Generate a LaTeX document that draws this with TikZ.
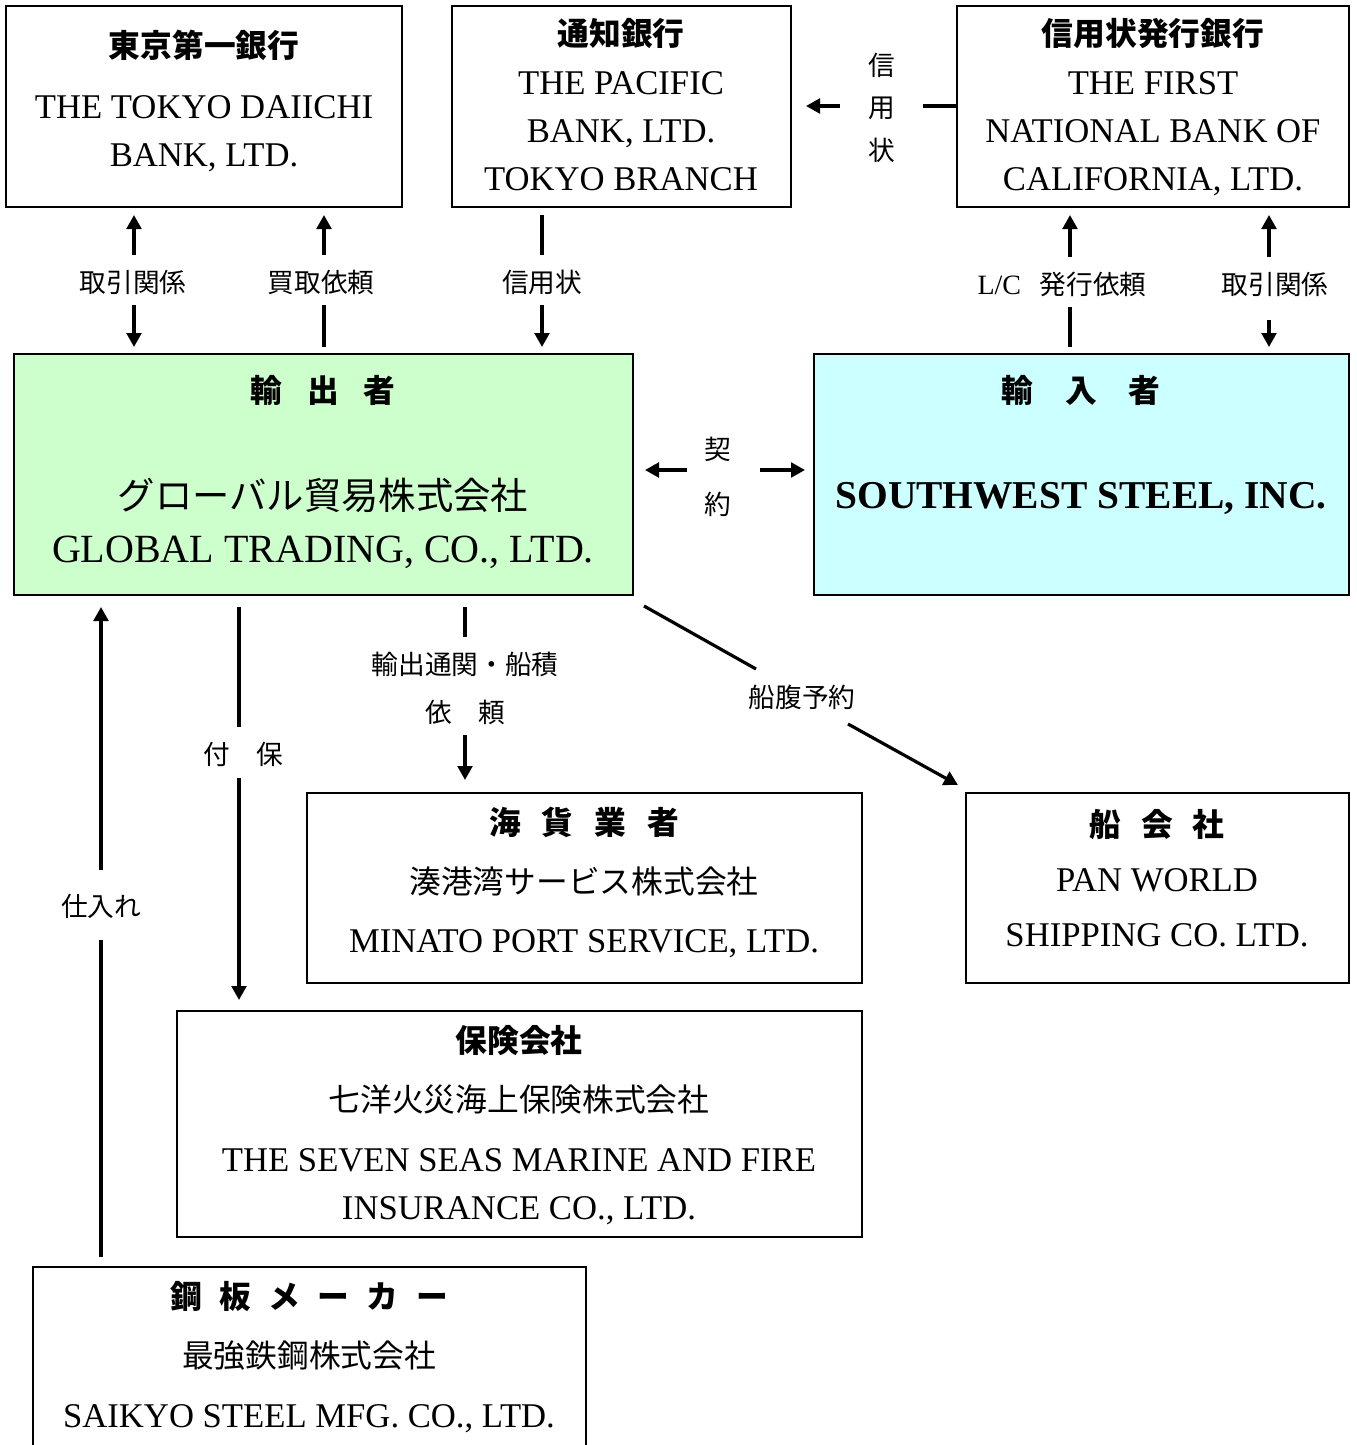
\documentclass[tikz,border=0pt]{standalone}
\usepackage{fontspec}
\setmainfont{Liberation Serif}
\newfontfamily\jp{Noto Sans CJK JP}
\usetikzlibrary{arrows.meta,fit}
\definecolor{expgreen}{HTML}{CCFFCC}
\definecolor{impcyan}{HTML}{CCFFFF}
\tikzset{
  box/.style={draw, line width=1.5pt, inner sep=0pt},
  txt/.style={inner sep=0pt, text depth=0pt, anchor=center},
  en/.style={txt, text height=17.2pt, font=\fontsize{26}{30}\selectfont},
  jh/.style={txt, text height=18.1pt, font=\fontsize{23.8}{28}\selectfont\jp\bfseries},
  jb/.style={txt, text height=18.1pt, font=\fontsize{23.8}{28}\selectfont\jp},
  lb/.style={txt, text height=15.2pt, font=\fontsize{20}{24}\selectfont\jp},
  conn/.style={line width=2.4pt},
  arr/.style={conn, -{Triangle[length=10.5pt,width=11pt]}},
}
\begin{document}
\begin{tikzpicture}[x=0.75pt,y=-0.75pt]
\useasboundingbox (0,0) rectangle (1356,1445);

% ---------- boxes ----------
\node[box, fit={(6,6)(402,207)}] (tokyo) {};
\node[box, fit={(452,6)(791,207)}] (pacific) {};
\node[box, fit={(957,6)(1349,207)}] (first) {};
\node[box, fill=expgreen, fit={(14,354)(633,595)}] (exporter) {};
\node[box, fill=impcyan, fit={(814,354)(1349,595)}] (importer) {};
\node[box, fit={(307,793)(862,983)}] (forwarder) {};
\node[box, fit={(966,793)(1349,983)}] (shipping) {};
\node[box, fit={(177,1011)(862,1237)}] (insurance) {};
\node[inner sep=0pt, fit={(33,1267)(586,1445)}] (maker) {};
\draw[line width=1.5pt] (maker.south west) -- (maker.north west) -- (maker.north east) -- (maker.south east);

% ---------- box texts ----------
\node[jh] (tokyo-j) at (204,45) {東京第一銀行};
\node[en] (tokyo-e1) at (204,107) {THE TOKYO DAIICHI};
\node[en] (tokyo-e2) at (204,155) {BANK, LTD.};

\node[jh] (pacific-j) at (621,33) {通知銀行};
\node[en] (pacific-e1) at (621,83) {THE PACIFIC};
\node[en] (pacific-e2) at (621,131) {BANK, LTD.};
\node[en] (pacific-e3) at (621,179) {TOKYO BRANCH};

\node[jh] (first-j) at (1153,33) {信用状発行銀行};
\node[en] (first-e1) at (1153,83) {THE FIRST};
\node[en] (first-e2) at (1153,131) {NATIONAL BANK OF};
\node[en] (first-e3) at (1153,179) {CALIFORNIA, LTD.};

\node[jh] (exporter-h) at (323,390) {輸\hspace{0.79em}出\hspace{0.79em}者};
\node[txt, text height=21.3pt, font=\fontsize{28}{32}\selectfont\jp] (exporter-j) at (323,495) {グローバル貿易株式会社};
\node[txt, text height=19.8pt, font=\fontsize{30}{34}\selectfont] (exporter-e) at (323,549) {GLOBAL TRADING, CO., LTD.};

\node[jh] (importer-h) at (1081,390) {輸\hspace{1em}入\hspace{1em}者};
\node[txt, text height=19.5pt, font=\fontsize{29.6}{34}\selectfont\bfseries] (importer-e) at (1081,495) {SOUTHWEST STEEL, INC.};

\node[jh] (forwarder-h) at (584,822) {海\hspace{0.66em}貨\hspace{0.66em}業\hspace{0.66em}者};
\node[jb] (forwarder-j) at (584,881) {湊港湾サービス株式会社};
\node[en] (forwarder-e) at (584,941) {MINATO PORT SERVICE, LTD.};

\node[jh] (shipping-h) at (1157,824) {船\hspace{0.63em}会\hspace{0.63em}社};
\node[en] (shipping-e1) at (1157,880) {PAN WORLD};
\node[en] (shipping-e2) at (1157,935) {SHIPPING CO. LTD.};

\node[jh] (insurance-h) at (519,1040) {保険会社};
\node[jb] (insurance-j) at (519,1099) {七洋火災海上保険株式会社};
\node[en] (insurance-e1) at (519,1160) {THE SEVEN SEAS MARINE AND FIRE};
\node[en] (insurance-e2) at (519,1208) {INSURANCE CO., LTD.};

\node[jh] (maker-h) at (309,1296) {鋼\hspace{0.55em}板\hspace{0.55em}メ\hspace{0.55em}ー\hspace{0.55em}カ\hspace{0.55em}ー};
\node[jb] (maker-j) at (309,1355) {最強鉄鋼株式会社};
\node[en] (maker-e) at (309,1416) {SAIKYO STEEL MFG. CO., LTD.};

% ---------- connector labels ----------
\node[lb] (l-tk1) at (133,282) {取引関係};
\node[lb] (l-tk2) at (321,282) {買取依頼};
\node[lb] (l-lc) at (542,282) {信用状};
\node[lb] (l-lcreq) at (1062,284) {{\fontsize{21}{24}\selectfont\rmfamily L/C}\hspace{14pt}発行依頼};
\node[lb] (l-fn) at (1275,284) {取引関係};
\node[lb] (l-v1) at (882,65) {信};
\node[lb] (l-v2) at (882,107) {用};
\node[lb] (l-v3) at (882,150) {状};
\node[lb] (l-k1) at (718,449) {契};
\node[lb] (l-k2) at (718,504) {約};
\node[lb] (l-ins) at (243,754) {付　保};
\node[lb] (l-fw1) at (465,664) {輸出通関・船積};
\node[lb] (l-fw2) at (465,712) {依　頼};
\node[lb] (l-ship) at (802,697) {船腹予約};
\node[lb] (l-buy) at (101,906) {仕入れ};

% ---------- connector end points ----------
\coordinate (c1a) at (134,255); \coordinate (c1b) at (134,215);
\coordinate (c1c) at (134,305); \coordinate (c1d) at (134,347);
\coordinate (c2a) at (324,255); \coordinate (c2b) at (324,215);
\coordinate (c2c) at (324,305); \coordinate (c2d) at (324,347);
\coordinate (c3a) at (542,215); \coordinate (c3b) at (542,255);
\coordinate (c3c) at (542,305); \coordinate (c3d) at (542,347);
\coordinate (c4a) at (1070,257); \coordinate (c4b) at (1070,215);
\coordinate (c4c) at (1070,307); \coordinate (c4d) at (1070,347);
\coordinate (c5a) at (1269,257); \coordinate (c5b) at (1269,215);
\coordinate (c5c) at (1269,320); \coordinate (c5d) at (1269,347);
\coordinate (c6a) at (840,106); \coordinate (c6b) at (806,106);
\coordinate (c6c) at (923,106); \coordinate (c6d) at (957,106);
\coordinate (c7a) at (687,470); \coordinate (c7b) at (645,470);
\coordinate (c7c) at (760,470); \coordinate (c7d) at (805,470);
\coordinate (c8a) at (239,607); \coordinate (c8b) at (239,727);
\coordinate (c8c) at (239,778); \coordinate (c8d) at (239,1000);
\coordinate (c9a) at (465,607); \coordinate (c9b) at (465,637);
\coordinate (c9c) at (465,735); \coordinate (c9d) at (465,780);
\coordinate (c10a) at (644,606); \coordinate (c10b) at (756,669);
\coordinate (c10c) at (848,724); \coordinate (c10d) at (958,785);
\coordinate (c11a) at (101,1257); \coordinate (c11b) at (101,940);
\coordinate (c11c) at (101,870); \coordinate (c11d) at (101,607);

% ---------- connectors ----------
\draw[arr] (c1a) -- (c1b);  \draw[arr] (c1c) -- (c1d);
\draw[arr] (c2a) -- (c2b);  \draw[conn] (c2c) -- (c2d);
\draw[conn] (c3a) -- (c3b); \draw[arr] (c3c) -- (c3d);
\draw[arr] (c4a) -- (c4b);  \draw[conn] (c4c) -- (c4d);
\draw[arr] (c5a) -- (c5b);  \draw[arr] (c5c) -- (c5d);
\draw[arr] (c6a) -- (c6b);  \draw[conn] (c6c) -- (c6d);
\draw[arr] (c7a) -- (c7b);  \draw[arr] (c7c) -- (c7d);
\draw[conn] (c8a) -- (c8b); \draw[arr] (c8c) -- (c8d);
\draw[conn] (c9a) -- (c9b); \draw[arr] (c9c) -- (c9d);
\draw[conn] (c10a) -- (c10b); \draw[arr] (c10c) -- (c10d);
\draw[conn] (c11a) -- (c11b); \draw[arr] (c11c) -- (c11d);
\end{tikzpicture}
\end{document}
